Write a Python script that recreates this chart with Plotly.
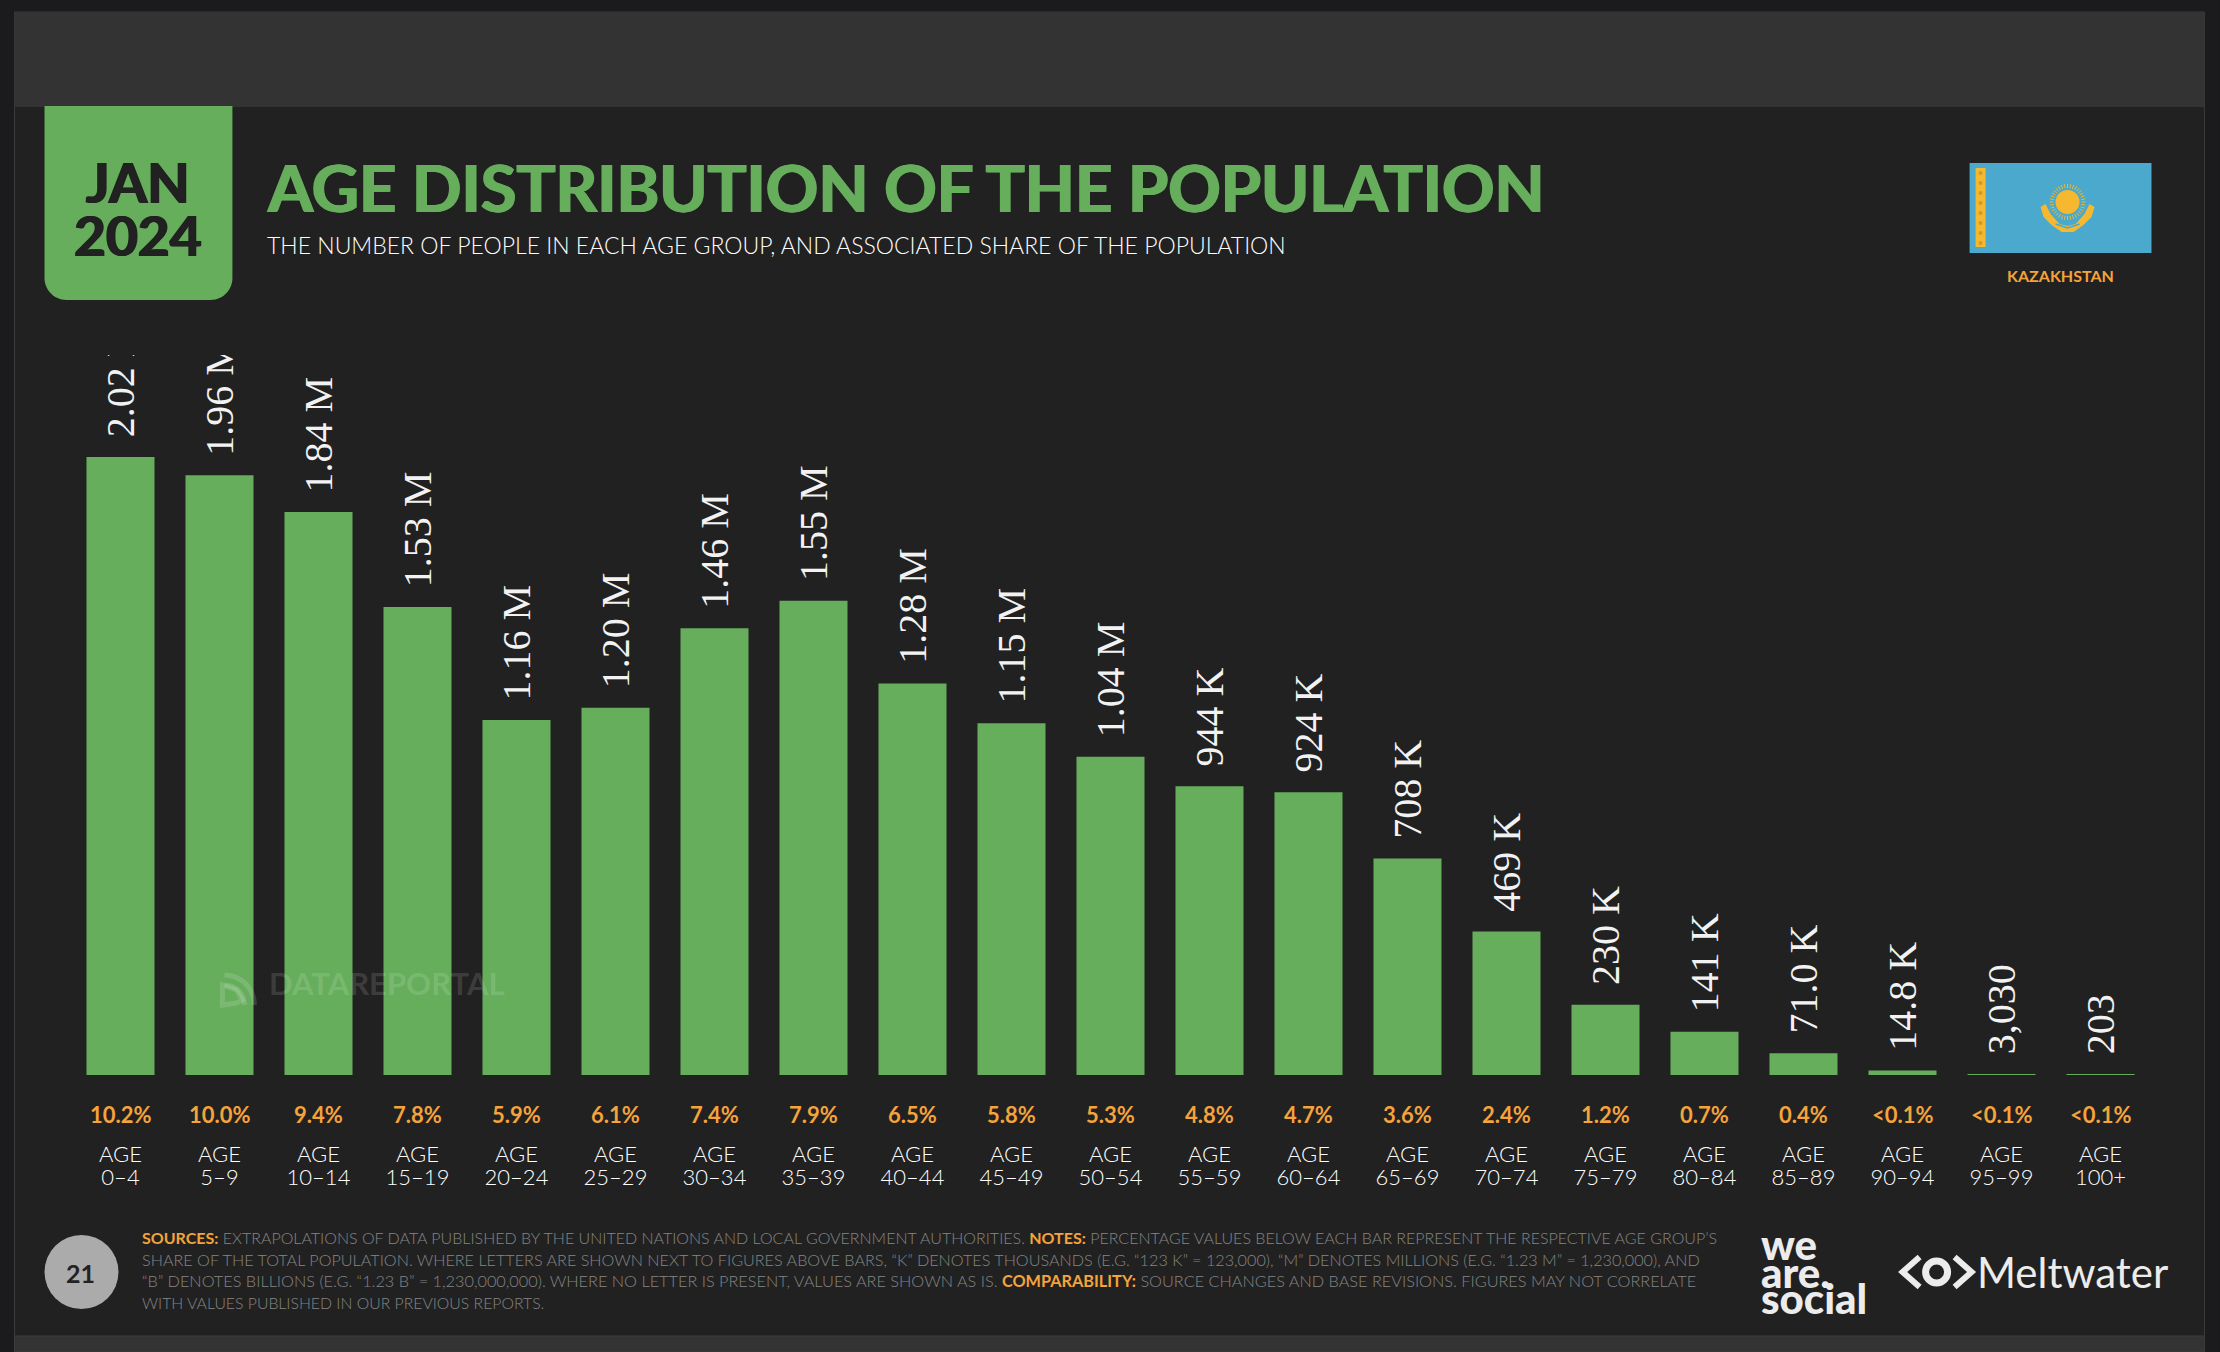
import math
import plotly.graph_objects as go

age_groups = ["0–4","5–9","10–14","15–19","20–24","25–29","30–34","35–39","40–44","45–49","50–54",
              "55–59","60–64","65–69","70–74","75–79","80–84","85–89","90–94","95–99","100+"]
population = [2020000,1960000,1840000,1530000,1160000,1200000,1460000,1550000,1280000,1150000,1040000,
              944000,924000,708000,469000,230000,141000,71000,14800,3030,203]
value_labels = ["2.02 M","1.96 M","1.84 M","1.53 M","1.16 M","1.20 M","1.46 M","1.55 M","1.28 M","1.15 M","1.04 M",
                "944 K","924 K","708 K","469 K","230 K","141 K","71.0 K","14.8 K","3,030","203"]
shares = ["10.2%","10.0%","9.4%","7.8%","5.9%","6.1%","7.4%","7.9%","6.5%","5.8%","5.3%",
          "4.8%","4.7%","3.6%","2.4%","1.2%","0.7%","0.4%","<0.1%","<0.1%","<0.1%"]

GREEN = "#66ae5c"; ORANGE = "#f5a33b"; BG = "#212121"; BAND = "#333333"; OUTER = "#1b1b1d"
FONT = "Lato"
W, H = 2220, 1352
L, R, T, B = 70.5, 2150.5, 355, 1075

def px(x): return (x - L) / (R - L)
def py(y): return (B - y) / (B - T)

fig = go.Figure(go.Bar(
    x=age_groups, y=population, text=["\u2004\u200a" + s for s in value_labels], textposition="outside",
    textangle=-90, constraintext="none", cliponaxis=True,
    textfont=dict(family="Liberation Serif", size=40, color="#f2f2f2"),
    marker=dict(color=GREEN, line_width=0), width=0.687, hoverinfo="skip"))

shapes, ann = [], []
def rect(x0, y0, x1, y1, color, layer="below", line=None):
    shapes.append(dict(type="rect", xref="paper", yref="paper", x0=px(x0), x1=px(x1), y0=py(y0), y1=py(y1),
                       fillcolor=color, line=dict(color=line if line else "rgba(0,0,0,0)", width=1 if line else 0), layer=layer))
def path(points, fill=None, line=None, width=0, close=True, layer="above"):
    d = "M " + " L ".join(f"{px(a):.5f},{py(b):.5f}" for a, b in points) + (" Z" if close else "")
    shapes.append(dict(type="path", xref="paper", yref="paper", path=d, fillcolor=fill if fill else "rgba(0,0,0,0)",
                       line=dict(color=line if line else "rgba(0,0,0,0)", width=width), layer=layer))
def circle(cx, cy, r, color, line=None, width=0, layer="above", ry=None):
    ry = ry or r
    shapes.append(dict(type="circle", xref="paper", yref="paper", x0=px(cx-r), x1=px(cx+r), y0=py(cy+ry), y1=py(cy-ry),
                       fillcolor=color, line=dict(color=line if line else "rgba(0,0,0,0)", width=width), layer=layer))
def text(x, y, s, size, color, weight=400, anchor="left", family=FONT, shadow=None):
    f = dict(family=family, size=size, color=color, weight=weight)
    if shadow:
        f["shadow"] = shadow
    ann.append(dict(xref="paper", yref="paper", x=px(x), y=py(y), text=s, showarrow=False, xanchor=anchor, yanchor="middle",
                    align=anchor, font=f, borderpad=0))
def arc(cx, cy, r, a0, a1, n=14):
    return [(cx + r*math.cos(math.radians(a0 + (a1-a0)*i/n)), cy + r*math.sin(math.radians(a0 + (a1-a0)*i/n))) for i in range(n+1)]

# frame
rect(0, 0, W, H, OUTER)
rect(14, 12, 2205, 1352, BG, line="#3c3c3c")
rect(14, 12, 2205, 107, BAND)
rect(14, 1336, 2205, 1352, BAND, line="#3c3c3c")

# date badge
r = 22
path([(44, 106), (232, 106)] + arc(232-r, 300-r, r, 0, 90) + arc(44+r, 300-r, r, 90, 180), fill=GREEN)
thick_dark = f"1px 0 0 {BG}, -1px 0 0 {BG}"
text(138, 182, "JAN", 55, BG, 700, "center", shadow=thick_dark)
text(138, 235, "2024", 55, BG, 700, "center", shadow=thick_dark)

# titles
text(266, 187, "AGE DISTRIBUTION OF THE POPULATION", 65, GREEN, 700, shadow=f"1px 0 0 {GREEN}, -1px 0 0 {GREEN}")
text(266, 245, "THE NUMBER OF PEOPLE IN EACH AGE GROUP, AND ASSOCIATED SHARE OF THE POPULATION", 23, "#ffffff", 300)

# flag
YEL = "#f5b82e"
rect(1970, 163, 2152, 253, "#4aa9cc", "above")
rect(1976, 168, 1986, 247, YEL, "above")
for i in range(8):
    circle(1981, 173 + i*10, 2, "#cf9a2c")
cx, cy = 2068, 202
circle(cx, cy, 12, YEL)
for i in range(36):
    a = i / 36 * 2 * math.pi
    path([(cx + 14*math.cos(a), cy + 14*math.sin(a)), (cx + 18*math.cos(a), cy + 18*math.sin(a))], line=YEL, width=1, close=False)
path([(2041, 207), (2046, 204), (2051, 214), (2060, 224), (2068, 226), (2076, 224), (2085, 214), (2090, 204), (2095, 207),
      (2092, 217), (2084, 225), (2074, 232), (2062, 232), (2052, 225), (2044, 217)], fill=YEL)
path([(2056, 224), (2068, 228), (2080, 224)], line="#4aa9cc", width=1.5, close=False)
text(2061, 275, "KAZAKHSTAN", 16, ORANGE, 700, "center")

# per-bar text below the axis
for g, s in zip(age_groups, shares):
    ann.append(dict(x=g, y=0, xref="x", yref="y", yshift=-39, text=s, showarrow=False, yanchor="middle",
                    font=dict(family=FONT, size=22, color=ORANGE, weight=700)))
    ann.append(dict(x=g, y=0, xref="x", yref="y", yshift=-78, text="AGE", showarrow=False, yanchor="middle",
                    font=dict(family=FONT, size=22, color="#ffffff", weight=300)))

# footer
circle(81, 1272, 37, "#ababab")
text(80, 1273, "21", 25, "#222222", 700, "center")
O = lambda s: f"<span style='color:{ORANGE};font-weight:700'>{s}</span>"
foot = [
 O("SOURCES:") + " EXTRAPOLATIONS OF DATA PUBLISHED BY THE UNITED NATIONS AND LOCAL GOVERNMENT AUTHORITIES. " + O("NOTES:") + " PERCENTAGE VALUES BELOW EACH BAR REPRESENT THE RESPECTIVE AGE GROUP’S",
 "SHARE OF THE TOTAL POPULATION. WHERE LETTERS ARE SHOWN NEXT TO FIGURES ABOVE BARS, “K” DENOTES THOUSANDS (E.G. “123 K” = 123,000), “M” DENOTES MILLIONS (E.G. “1.23 M” = 1,230,000), AND",
 "“B” DENOTES BILLIONS (E.G. “1.23 B” = 1,230,000,000). WHERE NO LETTER IS PRESENT, VALUES ARE SHOWN AS IS. " + O("COMPARABILITY:") + " SOURCE CHANGES AND BASE REVISIONS. FIGURES MAY NOT CORRELATE",
 "WITH VALUES PUBLISHED IN OUR PREVIOUS REPORTS.",
]
for y, s, fs in zip([1237, 1259, 1280, 1302], foot, [16, 16.2, 16.3, 15.8]):
    text(141, y, s, fs, "#858585", 300)

# logos
for y, s in zip([1244, 1272, 1298], ["we", "are.", "social"]):
    text(1760, y, s, 42, "#ececec", 900)
path([(1920, 1257), (1903, 1272), (1920, 1287)], line="#ececec", width=6, close=False)
path([(1955, 1257), (1972, 1272), (1955, 1287)], line="#ececec", width=6, close=False)
circle(1937, 1272, 11, "rgba(0,0,0,0)", line="#ececec", width=7)
text(1976, 1272, "Meltwater", 42, "#ececec", 400)

# watermark
wm = "rgba(255,255,255,0.14)"
for rr in (30, 20):
    path(arc(224, 1005, rr, -90, 0), line=wm, width=5, close=False)
path([(222, 985), (236, 990), (242, 1000), (236, 1003), (222, 1005)], line=wm, width=5)
text(268, 983, "DATAREPORTAL", 31, wm, 700)

fig.update_layout(
    width=W, height=H, paper_bgcolor=OUTER, plot_bgcolor="rgba(0,0,0,0)", showlegend=False,
    margin=dict(l=L, r=W-R, t=T, b=H-B), shapes=shapes, annotations=ann,
    xaxis=dict(type="category", ticks="", showline=False, showgrid=False, zeroline=False, tickangle=0,
               ticklabelstandoff=87, tickfont=dict(family=FONT, size=22, color="#ffffff", weight=300)),
    yaxis=dict(range=[0, (B-T)/618*2020000], visible=False, showgrid=False, zeroline=False),
)
fig.write_html("out.html", config={"displayModeBar": False},
               post_script="document.body.style.margin='0';document.body.style.background='#1b1b1d';")
